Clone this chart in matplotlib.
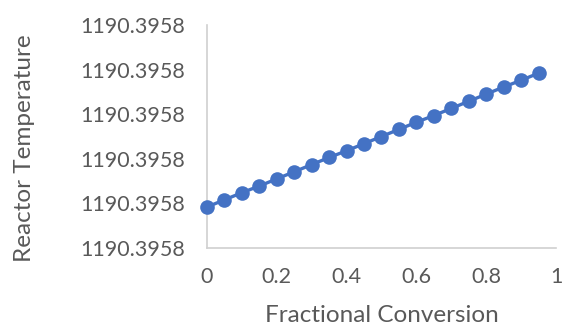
import matplotlib
matplotlib.use("Agg")
import matplotlib.pyplot as plt
from matplotlib.ticker import FormatStrFormatter

conversion = [0.0, 0.05, 0.10, 0.15, 0.20, 0.25, 0.30, 0.35, 0.40, 0.45,
              0.50, 0.55, 0.60, 0.65, 0.70, 0.75, 0.80, 0.85, 0.90, 0.95]
temperature = [1190.3957892, 1190.3957908, 1190.3957924, 1190.3957939, 1190.3957955,
               1190.3957971, 1190.3957987, 1190.3958003, 1190.3958018, 1190.3958034,
               1190.3958050, 1190.3958066, 1190.3958082, 1190.3958097, 1190.3958113,
               1190.3958129, 1190.3958145, 1190.3958161, 1190.3958176, 1190.3958192]
y_ticks = [1190.39578, 1190.39579, 1190.39580, 1190.39581, 1190.39582, 1190.39583]
x_ticks = [0, 0.2, 0.4, 0.6, 0.8, 1]
x_tick_labels = ["0", "0.2", "0.4", "0.6", "0.8", "1"]

plt.rcParams['font.family'] = ['Lato', 'DejaVu Sans']
txt = '#595959'

fig = plt.figure(figsize=(5.68, 3.29), dpi=100)
ax = fig.add_axes([0.3644, 0.2462, 0.6145, 0.6778])
ax.plot(conversion, temperature, color='#4472C4', lw=2.4, marker='o',
        markersize=10.5, markeredgewidth=0, zorder=3, clip_on=False)
ax.set_xlim(0, 1)
ax.set_ylim(y_ticks[0], y_ticks[-1])
ax.set_xticks(x_ticks)
ax.set_xticklabels(x_tick_labels)
ax.set_yticks(y_ticks)
ax.yaxis.set_major_formatter(FormatStrFormatter('%.4f'))
ax.tick_params(length=0, labelsize=15.5, colors=txt, pad=15.5)
ax.tick_params(axis='x', pad=14)
for s in ['top', 'right']:
    ax.spines[s].set_visible(False)
for s in ['left', 'bottom']:
    ax.spines[s].set_color('#D0D0D0')
    ax.spines[s].set_linewidth(1.2)
ax.set_xlabel('Fractional Conversion', fontsize=17.5, color=txt)
ax.set_ylabel('Reactor Temperature', fontsize=17.5, color=txt)
ax.xaxis.set_label_coords((207 + 556) / 2 / 568, (329 - 316) / 329, transform=fig.transFigure)
ax.yaxis.set_label_coords(25 / 568, 1 - 148 / 329, transform=fig.transFigure)
ax.xaxis.label.set_va('center')
ax.yaxis.label.set_va('center')
fig.savefig('out.png', dpi=100)
